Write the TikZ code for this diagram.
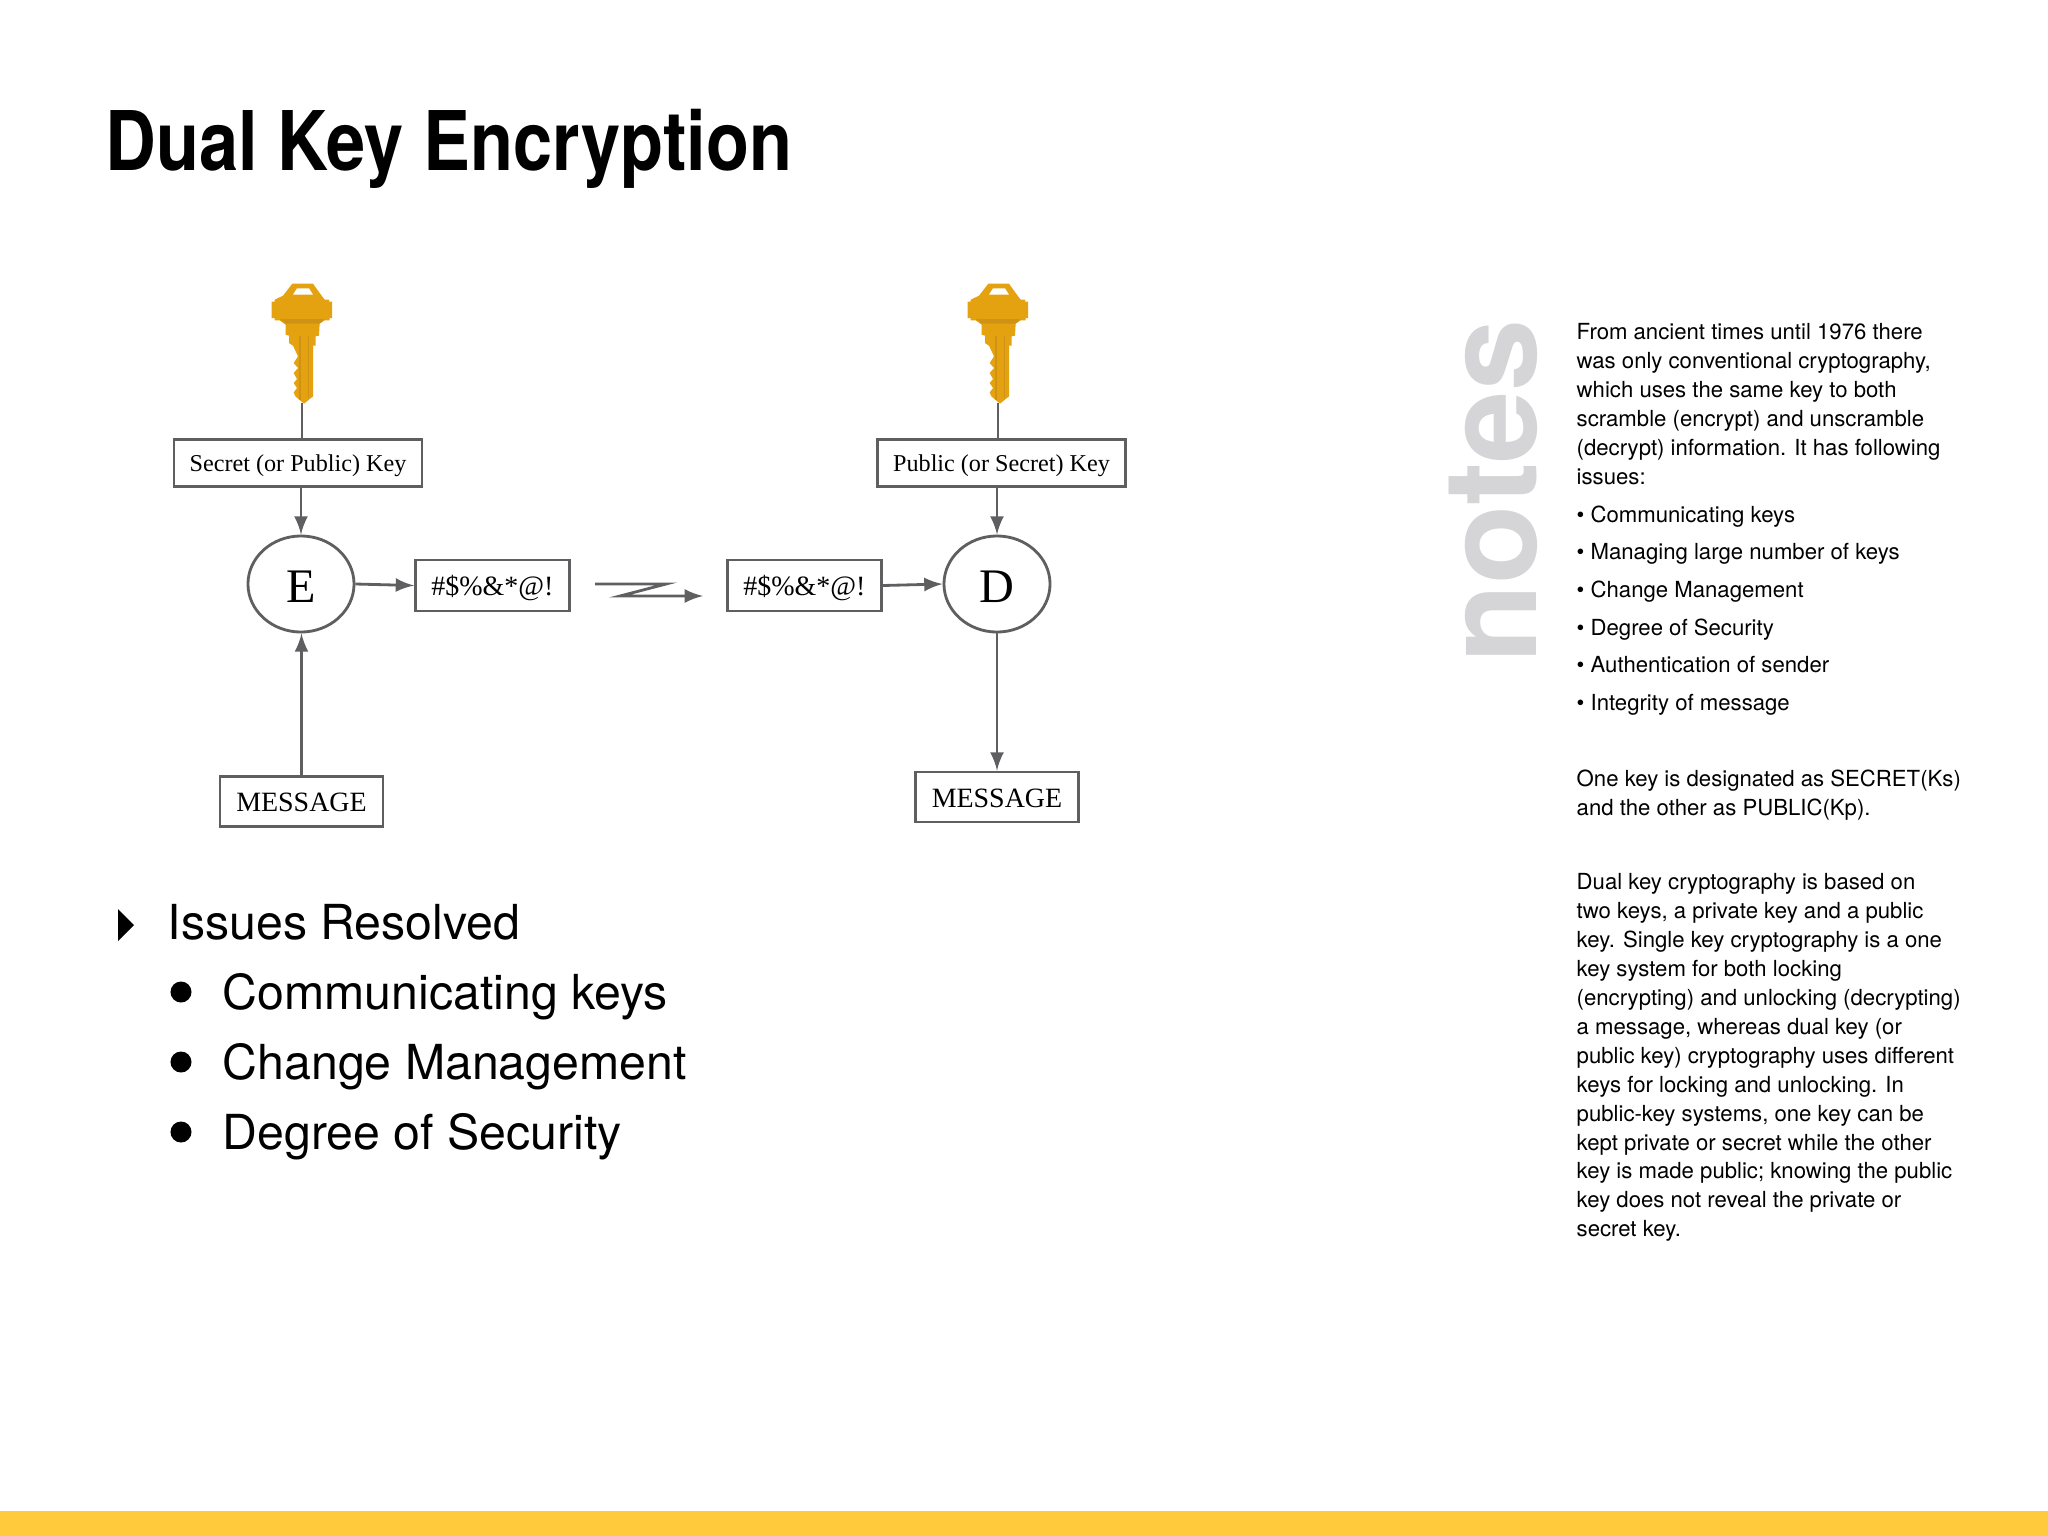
\documentclass[tikz,border=0pt]{standalone}
\usepackage{fontspec}
\setmainfont{Liberation Serif}
\setsansfont{TeX Gyre Heros}
\usetikzlibrary{shapes.geometric}

\definecolor{keygold}{HTML}{E5A210}
\definecolor{keydark}{HTML}{CF9214}
\definecolor{flowgray}{HTML}{5F5F62}
\definecolor{notesgray}{HTML}{D5D5D7}
\definecolor{baryellow}{HTML}{FFCB3D}

\tikzset{
    flow/.style={line width=0.8pt, draw=flowgray, >=latex},
    labelbox/.style={draw=flowgray, line width=0.8pt, fill=white, inner sep=0pt, text height=0.2cm, text depth=0.03cm, font=\fontsize{6.87}{9}\selectfont},
    wordbox/.style={labelbox, text height=0.24cm, text depth=0.04cm, font=\fontsize{7.95}{10}\selectfont},
    keycircle/.style={ellipse, draw=flowgray, line width=0.8pt, fill=white, inner sep=0pt, minimum width=1.06cm, minimum height=0.96cm, text height=0.4cm, text depth=0.03cm, font=\fontsize{13.7}{16}\selectfont},
    listtext/.style={anchor=base west, inner sep=0pt, font=\sffamily\fontsize{13.72}{16}\selectfont},
    listdot/.style={circle, fill=black, inner sep=0pt, minimum size=0.21cm},
    notetext/.style={anchor=north west, align=left, inner sep=0pt, font=\sffamily\fontsize{6.3}{8.22}\selectfont},
    keyicon/.pic={
        \begin{scope}[scale=0.3333, shift={(-457,-430)}]
        \fill[keygold] (428,72)--(490,72)--(510,100)--(525,120)--(538,120)--(538,126)--(547,126)--(547,175)--(540,175)--(540,182)--(525,182)--(510,192)--(508,228)--(498,230)--(498,258)--(490,258)--(490,410)--(463,432)--(437,410)--(432,398)--(442,385)--(432,370)--(442,358)--(432,340)--(445,325)--(432,310)--(445,290)--(430,258)--(418,250)--(418,228)--(408,225)--(408,195)--(390,182)--(375,182)--(375,175)--(366,175)--(366,126)--(375,126)--(375,120)--(400,108)--cycle;
        \fill[white] (442,86)--(478,86)--(490,105)--(430,105)--cycle;
        \fill[keydark] (390,178)--(525,178)--(510,192)--(408,192)--cycle;
        \draw[keydark, line width=0.35pt] (451,228)--(451,420) (476,228)--(476,415);
        \end{scope}
    }
}

\begin{document}
\begin{tikzpicture}[x=0.01cm, y=-0.01cm]
    \useasboundingbox (0,0) rectangle (2048,1536);
    \fill[baryellow] (0,1511) rectangle (2048,1536);

    \node[anchor=base west, inner sep=0pt, font=\sffamily\bfseries\fontsize{23.4}{28}\selectfont] (title) at (105,170) {\scalebox{0.855}[1]{Dual Key Encryption}};

    %% left side
    \pic at (302,403) {keyicon};
    \coordinate (keyleft) at (302,403);
    \node[labelbox, minimum width=2.48cm, minimum height=0.47cm] (secretbox) at (298,463) {Secret (or Public) Key};
    \node[keycircle] (E) at (301,584) {E};
    \node[wordbox, minimum width=1.54cm, minimum height=0.51cm] (cipherleft) at (492.5,585.5) {\#\$\%\&*@!};
    \node[wordbox, minimum width=1.63cm, minimum height=0.5cm] (messageleft) at (301.5,801.5) {MESSAGE};

    %% right side
    \pic at (998,403) {keyicon};
    \coordinate (keyright) at (998,403);
    \node[labelbox, minimum width=2.48cm, minimum height=0.47cm] (publicbox) at (1001.5,463) {Public (or Secret) Key};
    \node[keycircle] (D) at (997,584) {D};
    \node[wordbox, minimum width=1.54cm, minimum height=0.51cm] (cipherright) at (804.5,585.5) {\#\$\%\&*@!};
    \node[wordbox, minimum width=1.63cm, minimum height=0.5cm] (messageright) at (997,797) {MESSAGE};

    %% wire in the middle
    \coordinate (zigstart) at (595,584);
    \coordinate (zigtop) at (666,584);
    \coordinate (zigback) at (620,596);
    \coordinate (zigend) at (703,596);

    \draw[flow] (keyleft) -- (keyleft |- secretbox.north);
    \draw[flow, ->] (E.north |- secretbox.south) -- (E.north);
    \draw[flow, ->] (messageleft.north) -- (messageleft.north |- E.south);
    \draw[flow, ->] (E.east) -- (cipherleft.west);
    \draw[flow, ->] (zigstart) -- (zigtop) -- (zigback) -- (zigend);
    \draw[flow, ->] (cipherright.east) -- (D.west);
    \draw[flow] (keyright) -- (keyright |- publicbox.north);
    \draw[flow, ->] (D.north |- publicbox.south) -- (D.north);
    \draw[flow, ->] (D.south) -- (messageright.north);

    %% list under the diagram
    \fill[black] (118,909) -- (134,925) -- (118,941) -- cycle;
    \node[listtext] (issues) at (167,939) {Issues Resolved};
    \node[listdot] (dotone) at (181,992) {};
    \node[listtext] (itemone) at (222,1009) {Communicating keys};
    \node[listdot] (dottwo) at (181,1062) {};
    \node[listtext] (itemtwo) at (222,1079) {Change Management};
    \node[listdot] (dotthree) at (181,1132) {};
    \node[listtext] (itemthree) at (222,1149) {Degree of Security};

    %% notes column
    \node[rotate=90, anchor=base west, inner sep=0pt, text=notesgray, font=\sffamily\bfseries\fontsize{36.9}{40}\selectfont] (notes) at (1536,664) {notes};
    \node[notetext] (parafirst) at (1576,323) {From ancient times until 1976 there\\was only conventional cryptography,\\which uses the same key to both\\scramble (encrypt) and unscramble\\(decrypt) information. It has following\\issues:};
    \node[notetext, font=\sffamily\fontsize{6.3}{10.7}\selectfont] (paraissues) at (1576,505) {• Communicating keys\\• Managing large number of keys\\• Change Management\\• Degree of Security\\• Authentication of sender\\• Integrity of message};
    \node[notetext] (parakeys) at (1576,769) {One key is designated as SECRET(Ks)\\and the other as PUBLIC(Kp).};
    \node[notetext] (paradual) at (1576,873) {Dual key cryptography is based on\\two keys, a private key and a public\\key. Single key cryptography is a one\\key system for both locking\\(encrypting) and unlocking (decrypting)\\a message, whereas dual key (or\\public key) cryptography uses different\\keys for locking and unlocking. In\\public-key systems, one key can be\\kept private or secret while the other\\key is made public; knowing the public\\key does not reveal the private or\\secret key.};
\end{tikzpicture}
\end{document}
